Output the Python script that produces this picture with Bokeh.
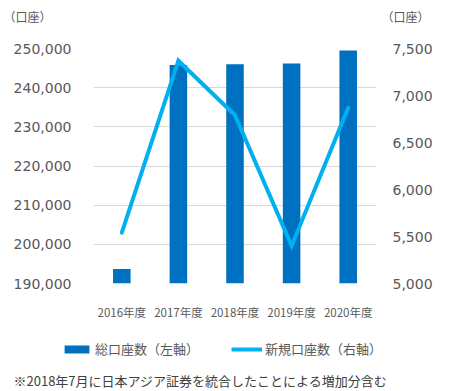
from bokeh.plotting import figure
from bokeh.models import (FactorRange, Range1d, LinearAxis, Legend, LegendItem,
                          Label, ColumnDataSource, NumeralTickFormatter, FixedTicker)
from bokeh.embed import file_html
from bokeh.resources import INLINE

categories = ["2016年度", "2017年度", "2018年度", "2019年度", "2020年度"]
total_accounts = [193700, 245800, 246000, 246200, 249500]
new_accounts = [5540, 7370, 6790, 5400, 6870]
left_ticks = [190000, 200000, 210000, 220000, 230000, 240000, 250000]
right_ticks = [5000, 5500, 6000, 6500, 7000, 7500]
unit_label = "（口座）"
legend_labels = ["総口座数（左軸）", "新規口座数（右軸）"]
footnote = "※2018年7月に日本アジア証券を統合したことによる増加分含む"

BAR = "#0070C0"
LINE = "#00B0F0"
TXT = "#595959"
JP = "Noto Sans CJK JP"
NUM = "DejaVu Sans"
W = 450


def blank(h):
    f = figure(width=W, height=h, x_range=Range1d(0, W), y_range=Range1d(h, 0),
               x_axis_type=None, y_axis_type=None, output_backend="svg",
               toolbar_location=None, min_border=0)
    f.outline_line_color = None
    f.grid.visible = False
    return f


# header: unit labels
head = blank(30)
for xpos in (3, 381):
    head.add_layout(Label(x=xpos, y=16, text=unit_label, text_font=JP,
                          text_font_size="12px", text_color=TXT,
                          text_baseline="middle"))

# main chart
src = ColumnDataSource(dict(cat=categories, total=total_accounts, new=new_accounts))
p = figure(width=W, height=292, x_range=FactorRange(*categories),
           y_range=Range1d(190000, 250000), output_backend="svg",
           toolbar_location=None, min_border_left=93, min_border_right=74,
           min_border_top=18, min_border_bottom=30)
p.extra_y_ranges = {"right": Range1d(5000, 7500)}
p.outline_line_color = None

bars = p.vbar(x="cat", top="total", bottom=190000, width=0.31, source=src,
              fill_color=BAR, line_color=None)
ln = p.line(x="cat", y="new", source=src, y_range_name="right", line_color=LINE,
            line_width=4, line_join="miter", line_cap="round")

p.xgrid.visible = False
p.ygrid.grid_line_color = "#D9D9D9"
p.ygrid.grid_line_width = 1
p.ygrid.ticker = FixedTicker(ticks=left_ticks)

ax = p.yaxis[0]
ax.ticker = FixedTicker(ticks=left_ticks)
ax.formatter = NumeralTickFormatter(format="0,0")

rax = LinearAxis(y_range_name="right", ticker=FixedTicker(ticks=right_ticks),
                 formatter=NumeralTickFormatter(format="0,0"))
p.add_layout(rax, "right")

for a in (ax, rax):
    a.axis_line_color = None
    a.major_tick_line_color = None
    a.minor_tick_line_color = None
    a.major_label_text_font = NUM
    a.major_label_text_font_size = "14px"
    a.major_label_text_color = TXT
ax.major_label_standoff = 16
rax.major_label_standoff = 10

xa = p.xaxis[0]
xa.axis_line_color = None
xa.major_tick_line_color = None
xa.minor_tick_line_color = None
xa.major_label_text_font = JP
xa.major_label_text_font_size = "11.5px"
xa.major_label_text_color = TXT
xa.major_label_standoff = 14

# footer: legend + footnote (legend swatch renderers lie outside the footer's view)
foot = blank(69)
lb = foot.vbar(x="new", top="new", bottom="new", width=1, source=src,
               fill_color=BAR, line_color=None)
ll = foot.line(x="new", y="new", source=src, line_color=LINE, line_width=4)
legend = Legend(items=[LegendItem(label=legend_labels[0], renderers=[lb]),
                       LegendItem(label=legend_labels[1], renderers=[ll])],
                orientation="horizontal", location=(61, 33),
                glyph_width=31, glyph_height=10, label_standoff=3, spacing=32,
                padding=0, margin=0, border_line_color=None,
                background_fill_alpha=0,
                label_text_font=JP, label_text_font_size="13px",
                label_text_color=TXT)
foot.add_layout(legend, "center")
foot.add_layout(Label(x=13, y=58, text=footnote, text_font=JP, text_font_size="13px",
                      text_color="#404040", text_baseline="middle"))

open("out.html", "w").write(file_html([head, p, foot], INLINE))
